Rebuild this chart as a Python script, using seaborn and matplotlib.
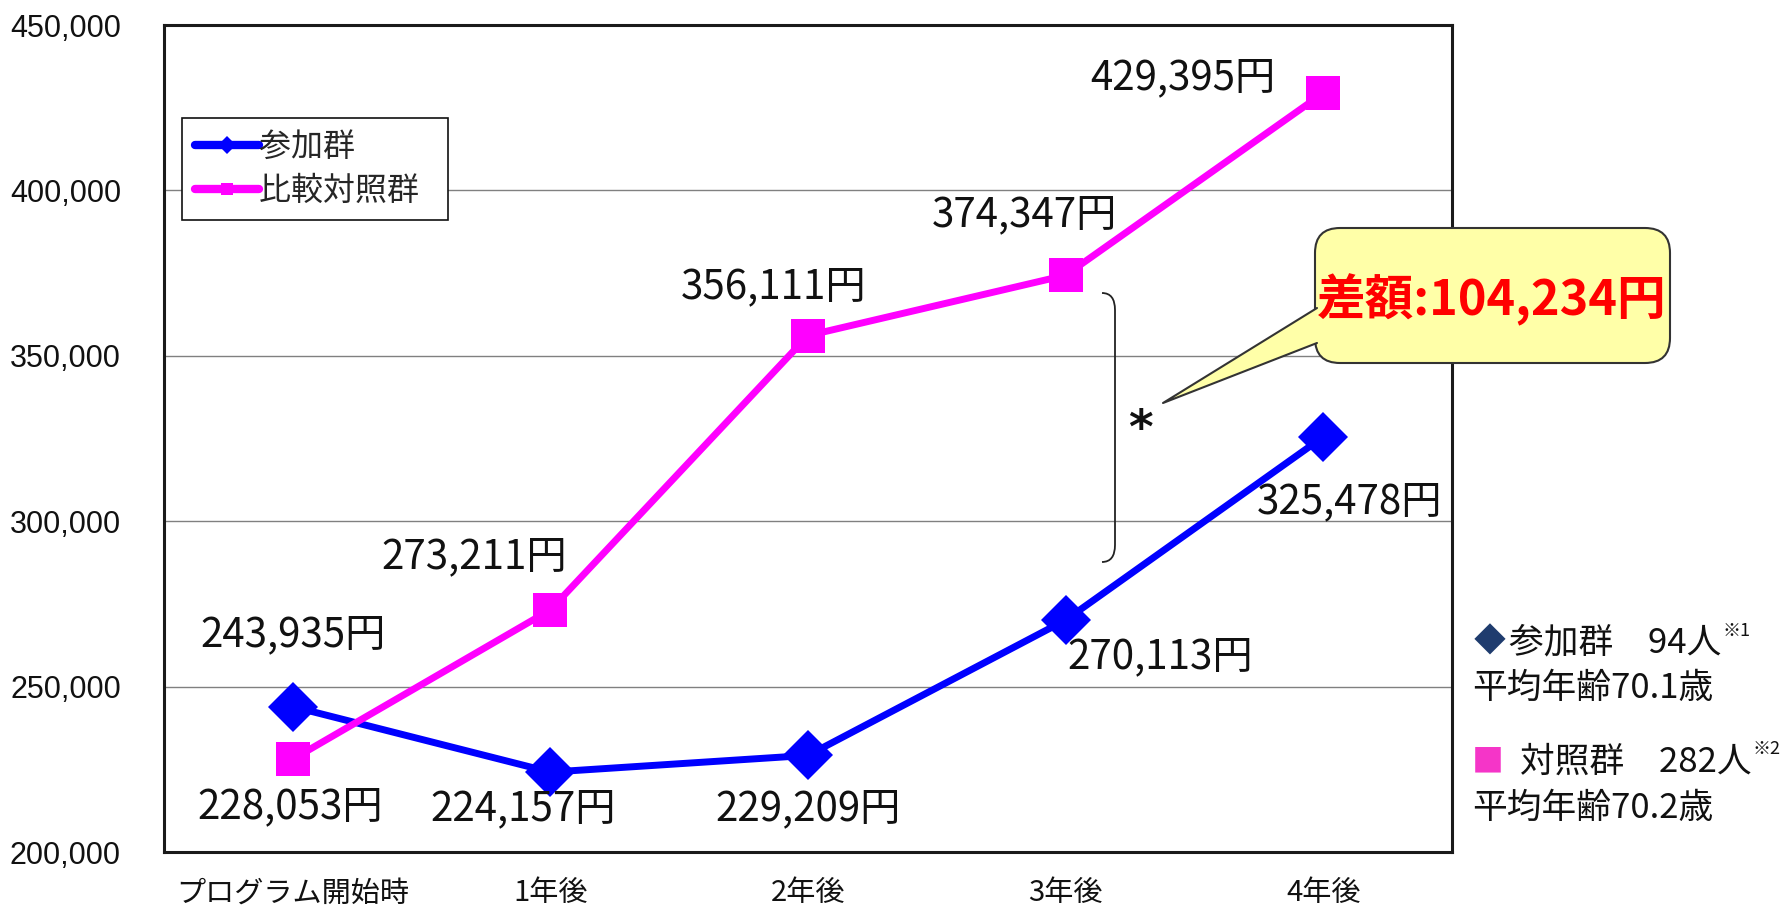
import numpy as np
import pandas as pd
import matplotlib
matplotlib.use("Agg")
import matplotlib.pyplot as plt
import seaborn as sns
from matplotlib.patches import FancyBboxPatch, Polygon, PathPatch
from matplotlib.path import Path
from matplotlib.lines import Line2D
from matplotlib.ticker import FuncFormatter

# ---------------- data ----------------
categories = ["プログラム開始時", "1年後", "2年後", "3年後", "4年後"]
series_names = ["参加群", "比較対照群"]
participants = [243935, 224157, 229209, 270113, 325478]
control = [228053, 273211, 356111, 374347, 429395]
y_ticks = [200000, 250000, 300000, 350000, 400000, 450000]
diff_text = "差額:104,234円"
side_notes = ["参加群\u300094人", "平均年齢70.1歳", "対照群\u3000282人", "平均年齢70.2歳"]
note_marks = ["※1", "※2"]

# ---------------- style ----------------
sns.set_style("white")
plt.rcParams["font.family"] = ["Noto Sans CJK JP", "DejaVu Sans"]

W, H = 1781, 909
def F(x, y):
    return (x / W, 1 - y / H)

fig = plt.figure(figsize=(W / 100, H / 100), dpi=100)
ax = fig.add_axes([164 / W, 1 - 852 / H, (1452 - 164) / W, (852 - 25) / H])

n = len(categories)
df = pd.DataFrame({
    "x": list(range(n)) * 2,
    "value": participants + control,
    "group": [series_names[0]] * n + [series_names[1]] * n,
})
palette = {series_names[0]: "#0000FF", series_names[1]: "#FF00FF"}
markers = {series_names[0]: "D", series_names[1]: "s"}

sns.lineplot(data=df, x="x", y="value", hue="group", style="group",
             palette=palette, markers=markers, dashes=False, sort=False,
             linewidth=5, markersize=25, markeredgewidth=0,
             legend=False, ax=ax, zorder=3)

ax.set_xlim(-0.5, n - 0.5)
ax.set_ylim(y_ticks[0], y_ticks[-1])
ax.set_yticks(y_ticks)
ax.yaxis.set_major_formatter(FuncFormatter(lambda v, p: f"{int(v):,}"))
ax.set_xticks(range(n))
ax.set_xticklabels(categories, fontsize=21, color="#111111")
for t in ax.get_yticklabels():
    t.set_family(["Liberation Sans", "DejaVu Sans"])
    t.set_fontsize(22)
    t.set_color("#111111")
ax.tick_params(axis="y", length=0, pad=31)
ax.tick_params(axis="x", length=0, pad=19)
ax.set_xlabel("")
ax.set_ylabel("")
ax.yaxis.grid(True, color="#808080", linewidth=1)
ax.xaxis.grid(False)
ax.set_axisbelow(True)
for s in ax.spines.values():
    s.set_color("#1a1a1a")
    s.set_linewidth(2.2)

# ---------------- value labels ----------------
off_p = [(0, 72), (-27, -37), (0, -53), (95, -37), (26, -65)]
off_c = [(-3, -48), (-76, 53), (-34, 49), (-41, 61), (-140, 15)]
for i, v in enumerate(participants):
    ax.annotate(f"{v:,}円", xy=(i, v), xytext=off_p[i], textcoords="offset pixels",
                ha="center", va="center", fontsize=29, color="#111111",
                annotation_clip=False, zorder=5)
for i, v in enumerate(control):
    ax.annotate(f"{v:,}円", xy=(i, v), xytext=off_c[i], textcoords="offset pixels",
                ha="center", va="center", fontsize=29, color="#111111",
                annotation_clip=False, zorder=5)

# ---------------- legend ----------------
lines = ax.get_lines()[:2]
leg = ax.legend(handles=lines, labels=series_names + [""][:0], loc="upper left",
                bbox_to_anchor=(18 / 1288, 1 - 93 / 827), borderaxespad=0,
                frameon=True, fancybox=False, edgecolor="#111111", facecolor="white",
                fontsize=23, handlelength=2.0, handletextpad=0.02,
                markerscale=0.35, borderpad=0.4, labelspacing=0.38)
leg.get_frame().set_linewidth(1.2)
leg.get_frame().set_alpha(1)
for h in leg.legend_handles:
    h.set_linewidth(6)
for txt in leg.get_texts():
    txt.set_text(txt.get_text() + "\u2002")

# ---------------- bracket, asterisk, callout ----------------
verts = [F(1102, 293), F(1115, 293), F(1115, 310), F(1115, 545),
         F(1115, 562), F(1102, 562)]
codes = [Path.MOVETO, Path.CURVE3, Path.CURVE3, Path.LINETO, Path.CURVE3, Path.CURVE3]
fig.add_artist(PathPatch(Path(verts, codes), transform=fig.transFigure,
                         fill=False, edgecolor="#222222", linewidth=1.3))
fig.text(*F(1140, 443), "*", fontsize=34, fontweight="bold", family="DejaVu Sans",
         ha="center", va="baseline", color="#111111")

x0, y0, x1, y1 = 1315, 228, 1670, 363
bx, by = F(x0, y1)
box = FancyBboxPatch((bx, by), (x1 - x0) / W, (y1 - y0) / H,
                     boxstyle=f"round,pad=0,rounding_size={25 / W}",
                     mutation_aspect=W / H, transform=fig.transFigure,
                     facecolor="#FFFFA8", edgecolor="#333333", linewidth=1.5, zorder=6)
fig.add_artist(box)
tip = F(1163, 403)
b1 = F(1317, 308)
b2 = F(1317, 343)
fig.add_artist(Polygon([tip, b1, b2], closed=True, transform=fig.transFigure,
                       facecolor="#FFFFA8", edgecolor="none", zorder=7))
fig.add_artist(Line2D([b1[0], tip[0], b2[0]], [b1[1], tip[1], b2[1]],
                      transform=fig.transFigure, color="#333333", linewidth=1.5, zorder=7))
fig.text(*F(1492, 300), diff_text, fontsize=35, fontweight="bold", color="#FF0000",
         ha="center", va="center", zorder=8)

# ---------------- side notes ----------------
fig.text(*F(1474, 643), "◆", fontsize=23, color="#1F3C6E", ha="left", va="center")
t1 = fig.text(*F(1509, 643), side_notes[0], fontsize=25, color="#111111", ha="left", va="center")
fig.text(*F(1472, 688), side_notes[1], fontsize=25, color="#111111", ha="left", va="center")
fig.text(*F(1472, 762), "■", fontsize=23, color="#F535C8", ha="left", va="center")
t3 = fig.text(*F(1520, 762), side_notes[2], fontsize=25, color="#111111", ha="left", va="center")
fig.text(*F(1472, 808), side_notes[3], fontsize=25, color="#111111", ha="left", va="center")
for t, m in zip([t1, t3], note_marks):
    ax.annotate(m, xy=(1, 1), xycoords=t, xytext=(1, -5), textcoords="offset pixels",
                ha="left", va="center", fontsize=13, color="#111111", annotation_clip=False)

fig.savefig("out.png", dpi=100, facecolor="white")
